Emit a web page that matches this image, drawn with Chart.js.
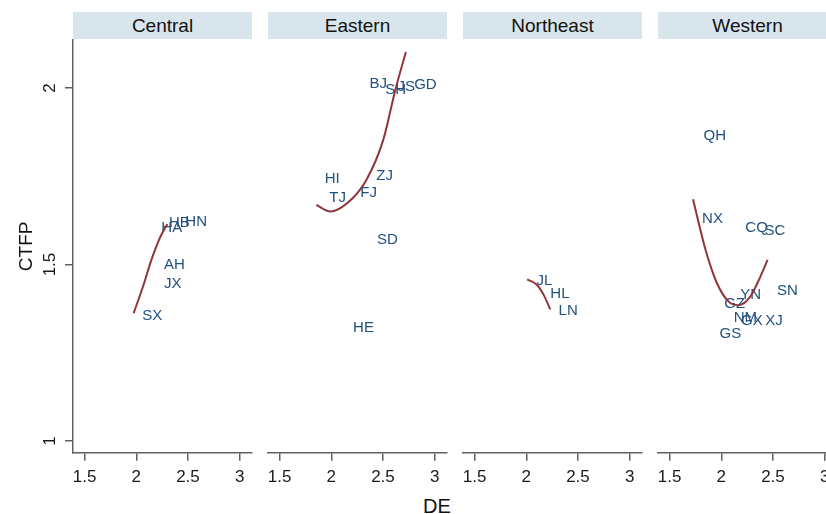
<!DOCTYPE html>
<html>
<head>
<meta charset="utf-8">
<script src="https://cdn.jsdelivr.net/npm/chart.js@4.4.0/dist/chart.umd.min.js"></script>
<style>
  html, body { margin: 0; padding: 0; background: #fff; overflow: hidden; }
  #wrap { position: relative; width: 826px; height: 514px; overflow: hidden; background: #fff; }
  .panel { position: absolute; top: 0; }
  .strip {
    position: absolute; top: 12px; height: 27px; width: 179px;
    background: #d9e5ec; color: #111; text-align: center;
    font: 19px "Liberation Sans", Arial, sans-serif; line-height: 27px;
  }
  #xtitle {
    position: absolute; left: 0; width: 874px; top: 494px; height: 24px;
    text-align: center; color: #111;
    font: 20px "Liberation Sans", Arial, sans-serif; line-height: 24px;
  }
</style>
</head>
<body>
<div id="wrap"><div id="xtitle">DE</div></div>
<script>
// Axis ticks and facet names
const DE_TICKS = [1.5, 2, 2.5, 3];
const CTFP_TICKS = [1, 1.5, 2];
const REGIONS = ['Central', 'Eastern', 'Northeast', 'Western'];

// Central provinces
const centralCodes = ['SX', 'JX', 'AH', 'HA', 'HB', 'HN'];
const centralDE    = [1.981, 2.190, 2.190, 2.165, 2.239, 2.397];
const centralCTFP  = [1.354, 1.445, 1.500, 1.603, 1.617, 1.621];
const centralFitDE   = [1.974, 2.064, 2.146, 2.226, 2.300];
const centralFitCTFP = [1.362, 1.437, 1.513, 1.574, 1.615];

// Eastern provinces
const easternCodes = ['BJ', 'SH', 'JS', 'GD', 'ZJ', 'HI', 'FJ', 'TJ', 'SD', 'HE'];
const easternDE    = [2.293, 2.445, 2.564, 2.725, 2.358, 1.858, 2.203, 1.903, 2.365, 2.133];
const easternCTFP  = [2.011, 1.994, 2.004, 2.008, 1.752, 1.744, 1.703, 1.688, 1.571, 1.322];
const easternFitDE   = [1.855, 1.990, 2.155, 2.338, 2.503, 2.619, 2.722];
const easternFitCTFP = [1.669, 1.650, 1.674, 1.739, 1.853, 1.994, 2.102];

// Northeast provinces
const northeastCodes = ['JL', 'HL', 'LN'];
const northeastDE    = [2.020, 2.155, 2.235];
const northeastCTFP  = [1.454, 1.418, 1.369];
const northeastFitDE   = [2.008, 2.104, 2.168, 2.232];
const northeastFitCTFP = [1.458, 1.442, 1.414, 1.373];

// Western provinces
const westernCodes = ['QH', 'NX', 'CQ', 'SC', 'SN', 'YN', 'GZ', 'NM', 'GX', 'XJ', 'GS'];
const westernDE    = [1.751, 1.736, 2.155, 2.341, 2.461, 2.106, 1.952, 2.042, 2.113, 2.348, 1.906];
const westernCTFP  = [1.864, 1.628, 1.603, 1.596, 1.426, 1.414, 1.388, 1.350, 1.341, 1.341, 1.305];
const westernFitDE   = [1.726, 1.845, 1.958, 2.071, 2.167, 2.280, 2.377, 2.448];
const westernFitCTFP = [1.685, 1.544, 1.447, 1.395, 1.385, 1.409, 1.465, 1.513];

const panels = [
  { name: REGIONS[0], codes: centralCodes,   de: centralDE,   ctfp: centralCTFP,   fitDE: centralFitDE,   fitCTFP: centralFitCTFP },
  { name: REGIONS[1], codes: easternCodes,   de: easternDE,   ctfp: easternCTFP,   fitDE: easternFitDE,   fitCTFP: easternFitCTFP },
  { name: REGIONS[2], codes: northeastCodes, de: northeastDE, ctfp: northeastCTFP, fitDE: northeastFitDE, fitCTFP: northeastFitCTFP },
  { name: REGIONS[3], codes: westernCodes,   de: westernDE,   ctfp: westernCTFP,   fitDE: westernFitDE,   fitCTFP: westernFitCTFP }
];

// Layout
const PANEL_LEFT = [73, 268, 463, 658];
const PANEL_W = 179;
const SIDE = 16;
const PLOT_TOP = 40;
const H = 514;
const XAXIS_H = 61.3;
const X_MIN = 1.387, X_MAX = 3.12;
const Y_MIN = 0.967, Y_MAX = 2.136;

const FONT = '"Liberation Sans", Arial, sans-serif';
const LABEL_COLOR = '#22507f';
const FIT_COLOR = '#90353b';
const AXIS_COLOR = '#606060';

// Province codes written to the right of each observation
const codeLabels = {
  id: 'codeLabels',
  beforeDatasetsDraw(chart) {
    const ds = chart.data.datasets[0];
    const meta = chart.getDatasetMeta(0);
    const ctx = chart.ctx;
    ctx.save();
    ctx.font = '15px ' + FONT;
    ctx.fillStyle = LABEL_COLOR;
    ctx.textAlign = 'left';
    ctx.textBaseline = 'middle';
    meta.data.forEach((pt, i) => ctx.fillText(ds.codes[i], pt.x + 8, pt.y));
    ctx.restore();
  }
};

const wrap = document.getElementById('wrap');

panels.forEach((p, idx) => {
  const first = idx === 0;
  const left = first ? 0 : PANEL_LEFT[idx] - SIDE;
  const width = first ? PANEL_LEFT[0] + PANEL_W + SIDE : PANEL_W + 2 * SIDE;

  const strip = document.createElement('div');
  strip.className = 'strip';
  strip.style.left = PANEL_LEFT[idx] + 'px';
  strip.textContent = p.name;
  wrap.appendChild(strip);

  const box = document.createElement('div');
  box.className = 'panel';
  box.style.left = left + 'px';
  const canvas = document.createElement('canvas');
  canvas.width = width;
  canvas.height = H;
  box.appendChild(canvas);
  wrap.appendChild(box);

  new Chart(canvas, {
    type: 'scatter',
    data: {
      datasets: [
        {
          codes: p.codes,
          data: p.de.map((x, i) => ({ x, y: p.ctfp[i] })),
          pointRadius: 0,
          pointHoverRadius: 0,
          showLine: false
        },
        {
          data: p.fitDE.map((x, i) => ({ x, y: p.fitCTFP[i] })),
          showLine: true,
          pointRadius: 0,
          borderColor: FIT_COLOR,
          borderWidth: 2,
          cubicInterpolationMode: 'monotone',
          fill: false
        }
      ]
    },
    options: {
      responsive: false,
      animation: false,
      events: [],
      layout: { padding: { left: first ? 0 : SIDE, right: SIDE, top: PLOT_TOP, bottom: 0 } },
      plugins: { legend: { display: false }, tooltip: { enabled: false }, title: { display: false } },
      scales: {
        x: {
          type: 'linear',
          position: 'bottom',
          min: X_MIN,
          max: X_MAX,
          afterBuildTicks: s => { s.ticks = DE_TICKS.map(v => ({ value: v })); },
          afterFit: s => { s.height = XAXIS_H; },
          grid: { drawOnChartArea: false, drawTicks: true, tickLength: 8, color: AXIS_COLOR, lineWidth: 1.5 },
          border: { display: true, color: AXIS_COLOR, width: 1.5 },
          ticks: {
            padding: 6,
            color: '#1a1a1a',
            font: { family: FONT, size: 17 },
            maxRotation: 0,
            minRotation: 0,
            callback: v => String(v)
          }
        },
        y: {
          type: 'linear',
          display: first,
          min: Y_MIN,
          max: Y_MAX,
          afterBuildTicks: s => { s.ticks = CTFP_TICKS.map(v => ({ value: v })); },
          afterFit: s => { s.width = first ? PANEL_LEFT[0] : 0; },
          grid: { drawOnChartArea: false, drawTicks: true, tickLength: 8, color: AXIS_COLOR, lineWidth: 1.5 },
          border: { display: true, color: AXIS_COLOR, width: 1.5 },
          ticks: {
            padding: 3,
            color: '#1a1a1a',
            font: { family: FONT, size: 17 },
            minRotation: 90,
            maxRotation: 90,
            crossAlign: 'center',
            callback: v => String(v)
          },
          title: {
            display: true,
            text: 'CTFP',
            color: '#111',
            font: { family: FONT, size: 19 },
            padding: { top: 15.6, bottom: 0 }
          }
        }
      }
    },
    plugins: [codeLabels]
  });
});
</script>
</body>
</html>
